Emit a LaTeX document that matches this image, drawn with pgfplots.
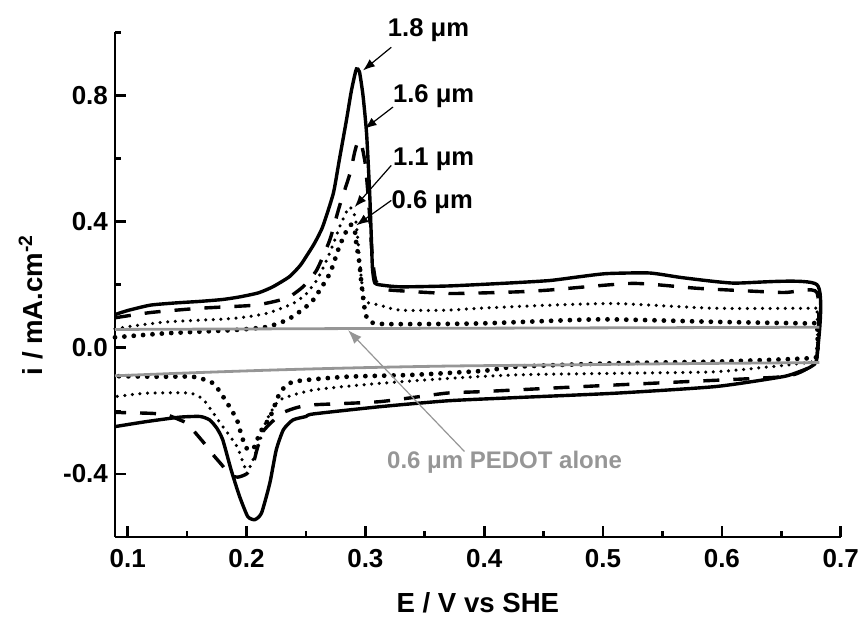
\documentclass[border=0pt]{standalone}
\usepackage{pgfplots}
\pgfplotsset{compat=1.18}
\usepackage{fontspec}
\setmainfont{Liberation Sans}
\usetikzlibrary{arrows.meta}
\definecolor{pgray}{RGB}{150,150,150}
\begin{document}
\begin{tikzpicture}
\useasboundingbox (-57.5pt,-42pt) rectangle (373pt,268.5pt);
\begin{axis}[
  scale only axis, width=362.85pt, height=252.35pt,
  at={(0,0)}, anchor=south west,
  xmin=0.0893, xmax=0.7, ymin=-0.6, ymax=1.0,
  clip=false,
  axis x line*=bottom, axis y line*=left,
  axis line style={line width=1.3pt, -},
  xtick={0.1,0.2,0.3,0.4,0.5,0.6,0.7},
  minor xtick={0.15,0.25,0.35,0.45,0.55,0.65},
  ytick={-0.4,0,0.4,0.8},
  minor ytick={-0.2,0.2,0.6,1.0},
  tick align=inside,
  major tick length=5.5pt, minor tick length=3pt,
  every tick/.style={line width=1.3pt, black},
  /pgf/number format/.cd, fixed, fixed zerofill, precision=1, assume math mode=true,
  /pgfplots/.cd,
  ticklabel style={font=\fontsize{13}{15}\selectfont\bfseries},
  xticklabel style={yshift=-2.5pt},
  xlabel={E / V vs SHE},
  ylabel={i / mA.cm\textsuperscript{-2}},
  label style={font=\fontsize{13.8}{16}\selectfont\bfseries},
  xlabel style={at={(axis description cs:0.5,-0.131)}, anchor=center},
  ylabel style={at={(axis description cs:-0.116,0.46)}, anchor=center},
]
% 1.8 um solid
\addplot[black, line width=1.7pt, smooth, tension=0.35] coordinates {
(0.0893,0.105) (0.10,0.118) (0.119,0.135) (0.14,0.142) (0.161,0.147) (0.18,0.153)
(0.194,0.161) (0.21,0.174) (0.222,0.193) (0.236,0.225) (0.245,0.26) (0.250,0.288)
(0.257,0.33) (0.264,0.383) (0.273,0.489) (0.278,0.594) (0.284,0.72) (0.288,0.81)
(0.2905,0.855) (0.2925,0.884) (0.295,0.875) (0.298,0.80) (0.301,0.68) (0.3035,0.50)
(0.305,0.35) (0.306,0.25) (0.308,0.205) (0.315,0.198) (0.33,0.193) (0.371,0.196)
(0.42,0.205) (0.455,0.213) (0.48,0.225) (0.503,0.235) (0.539,0.237) (0.567,0.222)
(0.609,0.205) (0.68,0.20) (0.68,-0.03) (0.675,-0.06) (0.665,-0.076) (0.651,-0.092)
(0.595,-0.123) (0.511,-0.144) (0.427,-0.158) (0.37,-0.168) (0.312,-0.187) (0.256,-0.210)
(0.25,-0.218) (0.239,-0.229) (0.231,-0.26) (0.225,-0.324) (0.2196,-0.429) (0.2126,-0.524)
(0.207,-0.545) (0.201,-0.535) (0.194,-0.47) (0.187,-0.387) (0.18,-0.292) (0.175,-0.255)
(0.169,-0.229) (0.161,-0.218) (0.144,-0.220) (0.116,-0.234) (0.0893,-0.25)
};
% 1.6 um dashed
\addplot[black, line width=1.7pt, dash pattern=on 8pt off 7pt, smooth, tension=0.35] coordinates {
(0.0893,0.095) (0.12,0.112) (0.16,0.125) (0.2,0.133) (0.211,0.137) (0.225,0.148)
(0.236,0.161) (0.248,0.195) (0.259,0.246) (0.27,0.341) (0.278,0.446) (0.287,0.552)
(0.291,0.62) (0.294,0.657) (0.297,0.64) (0.300,0.58) (0.303,0.45) (0.305,0.33)
(0.307,0.25) (0.309,0.21) (0.315,0.19) (0.32,0.183) (0.371,0.172) (0.427,0.177)
(0.455,0.183) (0.525,0.204) (0.581,0.188) (0.651,0.175) (0.68,0.175) (0.68,-0.03)
(0.67,-0.07) (0.651,-0.092) (0.567,-0.108) (0.483,-0.123) (0.399,-0.139) (0.368,-0.144)
(0.312,-0.171) (0.256,-0.181) (0.242,-0.19) (0.23,-0.207) (0.22,-0.24) (0.213,-0.27)
(0.209,-0.32) (0.205,-0.375) (0.2,-0.40) (0.193,-0.41) (0.186,-0.405) (0.18,-0.375)
(0.172,-0.34) (0.166,-0.31) (0.157,-0.27) (0.15,-0.24) (0.144,-0.229) (0.133,-0.213)
(0.12,-0.208) (0.0893,-0.205)
};
% 1.1 um small dots
\addplot[black, line width=1.75pt, line cap=round, dash pattern=on 0pt off 3.8pt, smooth, tension=0.35] coordinates {
(0.0893,0.06) (0.099,0.066) (0.133,0.082) (0.189,0.093) (0.217,0.109) (0.239,0.14)
(0.25,0.17) (0.26,0.22) (0.27,0.30) (0.278,0.38) (0.284,0.43) (0.287,0.446)
(0.290,0.43) (0.292,0.40) (0.294,0.33) (0.296,0.24) (0.298,0.18) (0.30,0.146)
(0.312,0.135) (0.329,0.119) (0.368,0.119) (0.396,0.125) (0.455,0.135) (0.511,0.14)
(0.595,0.125) (0.676,0.125) (0.68,0.12) (0.68,-0.03) (0.67,-0.048) (0.595,-0.076)
(0.511,-0.081) (0.427,-0.086) (0.371,-0.097) (0.312,-0.113) (0.256,-0.134) (0.228,-0.166)
(0.217,-0.229) (0.21,-0.31) (0.203,-0.377) (0.199,-0.382) (0.192,-0.313) (0.18,-0.25)
(0.164,-0.166) (0.152,-0.144) (0.116,-0.144) (0.0893,-0.155)
};
% 0.6 um large dots
\addplot[black, line width=2.4pt, line cap=round, dash pattern=on 0pt off 4.7pt, smooth, tension=0.35] coordinates {
(0.0893,0.033) (0.133,0.046) (0.189,0.056) (0.217,0.066) (0.234,0.088) (0.245,0.115)
(0.256,0.151) (0.27,0.235) (0.278,0.32) (0.284,0.37) (0.288,0.39) (0.291,0.375)
(0.292,0.341) (0.295,0.267) (0.297,0.193) (0.30,0.109) (0.304,0.082) (0.318,0.075)
(0.396,0.077) (0.497,0.09) (0.595,0.082) (0.673,0.077) (0.68,0.075) (0.68,-0.025)
(0.67,-0.034) (0.595,-0.044) (0.511,-0.049) (0.427,-0.06) (0.40,-0.073) (0.34,-0.086)
(0.284,-0.092) (0.239,-0.108) (0.228,-0.144) (0.22,-0.218) (0.211,-0.271) (0.207,-0.313)
(0.201,-0.324) (0.196,-0.282) (0.192,-0.229) (0.183,-0.171) (0.172,-0.113) (0.155,-0.092)
(0.127,-0.092) (0.0893,-0.09)
};
% PEDOT alone
\addplot[pgray, line width=1.4pt] coordinates {
(0.0893,0.058) (0.3,0.061) (0.5,0.063) (0.682,0.065)
};
\addplot[pgray, line width=1.4pt, smooth] coordinates {
(0.0893,-0.089) (0.15,-0.08) (0.228,-0.07) (0.3,-0.063) (0.371,-0.058) (0.45,-0.055)
(0.55,-0.051) (0.682,-0.047)
};
% annotations
\tikzset{lab/.style={anchor=base west, inner sep=0pt, font=\fontsize{12.8}{14}\selectfont\bfseries}}
\node[lab] at (axis cs:0.3187,0.987) {1.8 μm};
\node[lab] at (axis cs:0.323,0.778) {1.6 μm};
\node[lab] at (axis cs:0.323,0.578) {1.1 μm};
\node[lab] at (axis cs:0.3218,0.441) {0.6 μm};
\node[lab, text=pgray, font=\fontsize{12}{14}\selectfont\bfseries] at (axis cs:0.318,-0.382) {0.6 μm PEDOT alone};
\draw[-{Latex[length=6pt,width=4.5pt]}, line width=0.6pt] (axis cs:0.3218,0.9525) -- (axis cs:0.298,0.879);
\draw[-{Latex[length=6pt,width=4.5pt]}, line width=0.6pt] (axis cs:0.3232,0.763) -- (axis cs:0.2994,0.694);
\draw[-{Latex[length=6pt,width=4.5pt]}, line width=0.6pt] (axis cs:0.3218,0.578) -- (axis cs:0.291,0.446);
\draw[-{Latex[length=6pt,width=4.5pt]}, line width=0.6pt] (axis cs:0.3218,0.467) -- (axis cs:0.2924,0.388);
\draw[pgray, -{Latex[length=7pt,width=5pt]}, line width=0.6pt] (axis cs:0.3834,-0.329) -- (axis cs:0.2854,0.056);
\end{axis}
\end{tikzpicture}
\end{document}
